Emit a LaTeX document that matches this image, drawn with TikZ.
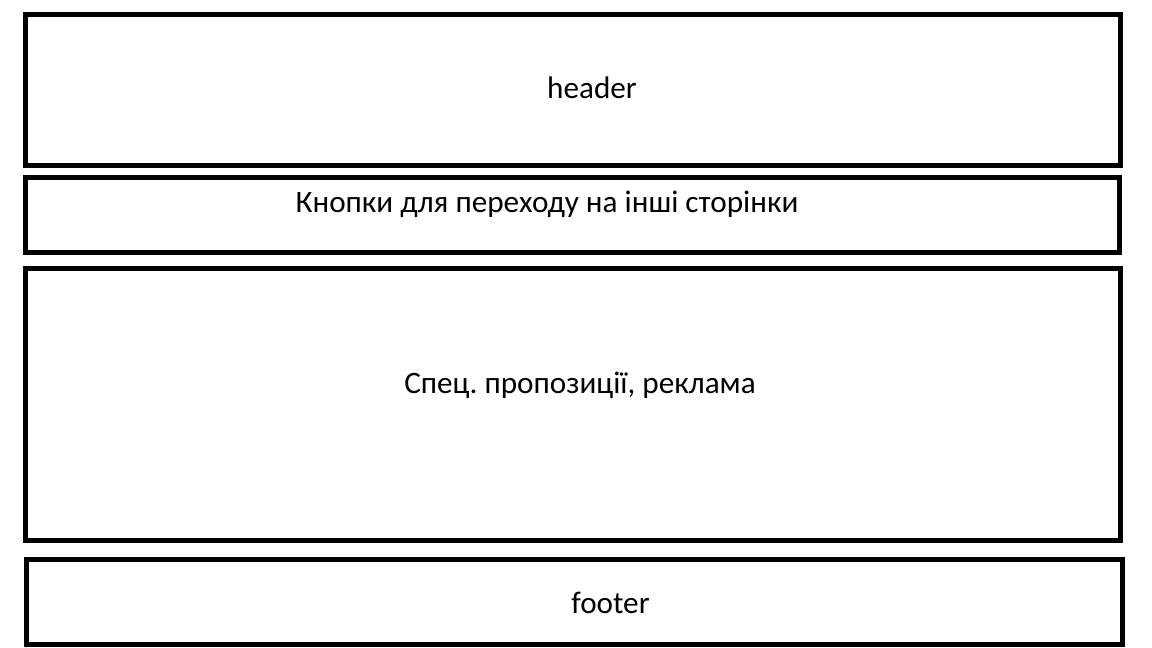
\documentclass[tikz,border=0pt]{standalone}
\usepackage{fontspec}
\setmainfont{Carlito}
\usepackage{tikz}
\frenchspacing

\tikzset{
  block/.style={draw, line width=2.5pt},
  label/.style={anchor=base, inner sep=0pt, font=\fontsize{15.6pt}{18pt}\selectfont}
}

\begin{document}
\begin{tikzpicture}[x=0.5pt, y=-0.5pt]
\useasboundingbox (0,0) rectangle (1152,648);
\draw[block] (25.5,14.5) rectangle (1120.5,165.5);
\draw[block] (25.5,177.5) rectangle (1119.5,252);
\draw[block] (25.5,268) rectangle (1120.5,540);
\draw[block] (26.5,559) rectangle (1122,644.5);
\node[label] (header) at (592,98) {header};
\node[label] (buttons) at (547,212) {Кнопки для переходу на інші сторінки};
\node[label] (promo) at (580,393) {Спец. пропозиції, реклама};
\node[label] (footer) at (610.5,613) {footer};
\end{tikzpicture}
\end{document}
